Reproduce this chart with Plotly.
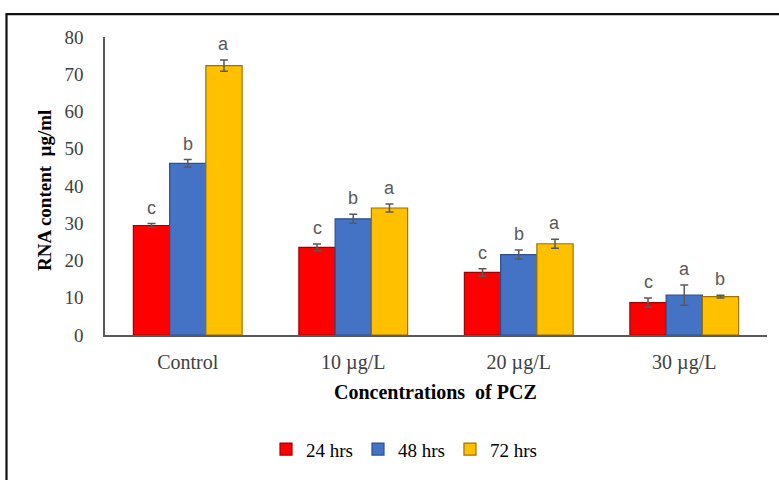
import plotly.graph_objects as go

categories = ["Control", "10 µg/L", "20 µg/L", "30 µg/L"]
series_names = ["24 hrs", "48 hrs", "72 hrs"]
vals_24 = [29.4, 23.5, 16.8, 8.7]
vals_48 = [46.1, 31.2, 21.6, 10.7]
vals_72 = [72.3, 34.1, 24.5, 10.3]
err_24 = [0.5, 0.9, 1.0, 1.2]
err_48 = [1.0, 1.2, 1.2, 2.7]
err_72 = [1.5, 1.1, 1.2, 0.4]
letters_24 = ["c", "c", "c", "c"]
letters_48 = ["b", "b", "b", "a"]
letters_72 = ["a", "a", "a", "b"]
y_ticks = [0, 10, 20, 30, 40, 50, 60, 70, 80]

colors = ["#FF0000", "#4472C4", "#FFC000"]
edge = ["#A00000", "#2F4F8F", "#9A7400"]

values = [vals_24, vals_48, vals_72]
errors = [err_24, err_48, err_72]
letters = [letters_24, letters_48, letters_72]

serif = "Liberation Serif, Times New Roman, serif"

fig = go.Figure()
for i in range(3):
    fig.add_trace(go.Bar(
        x=categories, y=values[i], name=series_names[i],
        marker=dict(color=colors[i], line=dict(color=edge[i], width=1.2)),
        error_y=dict(type="data", array=errors[i], color="#595959", thickness=1.5, width=4),
    ))

L, R, T, B = 105, 12, 37, 143
W, H = 779, 480
plot_w = W - L - R
plot_h = H - T - B
bargap = 0.343
bar_w = plot_w / len(categories) * (1 - bargap) / 3

annotations = []
for i in range(3):
    for j, c in enumerate(categories):
        annotations.append(dict(
            x=c, y=values[i][j] + errors[i][j], xref="x", yref="y",
            text=letters[i][j], showarrow=False, yanchor="bottom", xanchor="center",
            xshift=(i - 1) * bar_w, yshift=4,
            font=dict(family="Liberation Sans, Arial, sans-serif", size=18, color="#595959"),
        ))

annotations.append(dict(
    x=(45 - L) / plot_w, y=(337 - 192) / plot_h, xref="paper", yref="paper",
    xanchor="center", yanchor="middle",
    text="<b>RNA content  µg/ml</b>", textangle=-90, showarrow=False,
    font=dict(family=serif, size=19, color="#000000"),
))
annotations.append(dict(
    x=(435 - L) / plot_w, y=(337 - 394) / plot_h, xref="paper", yref="paper",
    xanchor="center", yanchor="middle",
    text="<b>Concentrations  of PCZ</b>", showarrow=False,
    font=dict(family=serif, size=20, color="#000000"),
))

fig.update_layout(
    width=W, height=H,
    margin=dict(l=L, r=R, t=T, b=B),
    paper_bgcolor="white", plot_bgcolor="white",
    barmode="group", bargap=bargap, bargroupgap=0,
    showlegend=True,
    legend=dict(orientation="h", x=(404 - L) / plot_w, xanchor="center",
                y=(337 - 452) / plot_h, yanchor="middle",
                font=dict(family=serif, size=19, color="#000000"),
                itemwidth=30, traceorder="normal"),
    annotations=annotations,
    shapes=[dict(type="rect", xref="paper", yref="paper",
                 x0=(6.5 - L) / plot_w, x1=1.3, y0=-0.8, y1=(337 - 14) / plot_h,
                 line=dict(color="#111111", width=2.2), fillcolor="rgba(0,0,0,0)", layer="below")],
    xaxis=dict(showline=True, linecolor="#595959", linewidth=1.5, ticks="",
               ticklabelstandoff=8,
               tickfont=dict(family=serif, size=20, color="#404040"), showgrid=False),
    yaxis=dict(range=[0, 80], tickvals=y_ticks, showline=True, linecolor="#595959", linewidth=1.5,
               ticks="", showgrid=False, zeroline=False, ticklabelstandoff=16,
               tickfont=dict(family=serif, size=19, color="#404040")),
)

fig.write_html("out.html", config={"displayModeBar": False},
               post_script="document.body.style.margin='0';document.body.style.overflow='hidden';")
